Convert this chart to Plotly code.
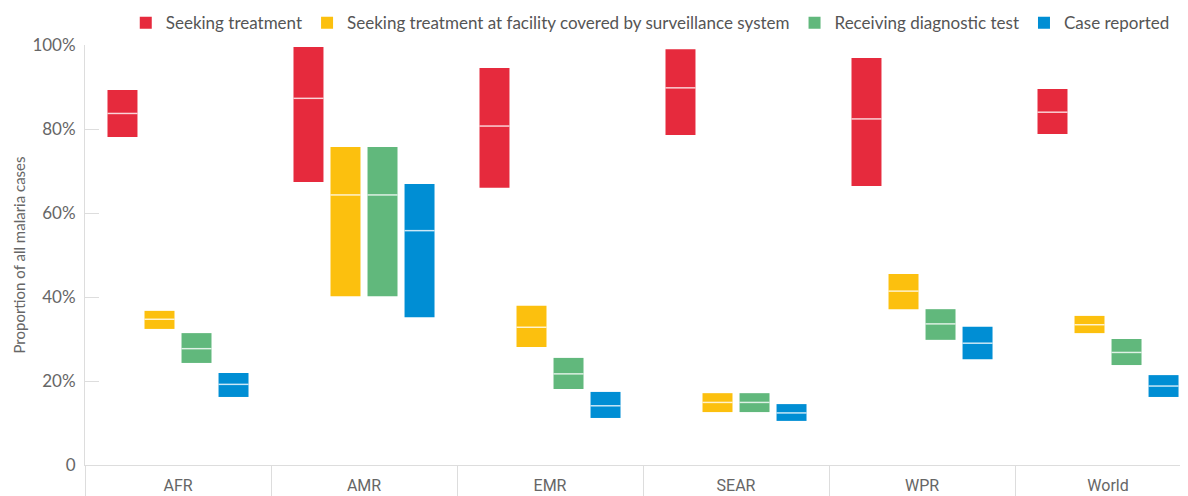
import plotly.graph_objects as go

regions = ["AFR", "AMR", "EMR", "SEAR", "WPR", "World"]
series = ["Seeking treatment",
          "Seeking treatment at facility covered by surveillance system",
          "Receiving diagnostic test",
          "Case reported"]
colors = ["#E62A3D", "#FCC00E", "#61B87C", "#008ED4"]

low_seek = [78.1, 67.4, 66.0, 78.6, 66.4, 78.8]
med_seek = [83.7, 87.3, 80.7, 89.8, 82.4, 84.0]
high_seek = [89.3, 99.5, 94.5, 99.0, 96.9, 89.5]

low_fac = [32.4, 40.2, 28.1, 12.6, 37.1, 31.4]
med_fac = [34.7, 64.3, 32.8, 14.9, 41.4, 33.4]
high_fac = [36.7, 75.7, 37.9, 17.1, 45.5, 35.5]

low_test = [24.3, 40.2, 18.1, 12.6, 29.8, 23.8]
med_test = [27.7, 64.3, 21.7, 14.9, 33.6, 26.8]
high_test = [31.4, 75.7, 25.5, 17.1, 37.1, 30.0]

low_rep = [16.2, 35.2, 11.2, 10.5, 25.2, 16.2]
med_rep = [19.2, 55.8, 14.1, 12.4, 29.0, 18.8]
high_rep = [21.9, 66.9, 17.4, 14.5, 32.9, 21.4]

y_tickvals = [0, 20, 40, 60, 80, 100]
y_ticktext = ["0", "20%", "40%", "60%", "80%", "100%"]

lows = [low_seek, low_fac, low_test, low_rep]
meds = [med_seek, med_fac, med_test, med_rep]
highs = [high_seek, high_fac, high_test, high_rep]

fig = go.Figure()
for i, name in enumerate(series):
    fig.add_trace(go.Bar(
        x=regions,
        y=[h - l for h, l in zip(highs[i], lows[i])],
        base=lows[i],
        name=name,
        marker=dict(color=colors[i], line=dict(width=0)),
        offsetgroup=str(i),
        customdata=list(zip(lows[i], meds[i], highs[i])),
        hovertemplate="%{x}<br>low %{customdata[0]}%<br>median %{customdata[1]}%<br>high %{customdata[2]}%<extra>" + name + "</extra>",
    ))
for i, name in enumerate(series):
    fig.add_trace(go.Bar(
        x=regions,
        y=[0.35] * len(regions),
        base=[m - 0.175 for m in meds[i]],
        name=name + " median",
        marker=dict(color="rgba(255,255,255,0.8)", line=dict(width=0)),
        offsetgroup=str(i),
        showlegend=False,
        hoverinfo="skip",
    ))

fig.update_layout(
    width=1180, height=488,
    margin=dict(l=77, r=0, t=37, b=31, autoexpand=False),
    barmode="group",
    bargap=0.204,
    bargroupgap=0.19,
    plot_bgcolor="white",
    paper_bgcolor="white",
    font=dict(family="Lato", size=17, color="#666666"),
    legend=dict(
        orientation="h",
        x=0.988, xanchor="right",
        y=1.052, yanchor="middle",
        font=dict(family="Lato", size=17, color="#555555"),
        itemwidth=30,
        bgcolor="rgba(0,0,0,0)",
    ),
    xaxis=dict(
        range=[-0.5, 5.43],
        automargin=False,
        showline=True, linecolor="#dddddd", linewidth=1,
        ticks="outside", tickson="boundaries", ticklen=40,
        tickcolor="#dddddd", tickwidth=1,
        ticklabelstandoff=6,
        tickfont=dict(family="Roboto", size=16, color="#666666"),
        showgrid=False, zeroline=False,
    ),
    yaxis=dict(
        range=[0, 100],
        automargin=False,
        tickvals=y_tickvals, ticktext=y_ticktext,
        showline=True, linecolor="#dddddd", linewidth=1,
        ticks="inside", ticklen=14, tickcolor="#dddddd", tickwidth=1,
        ticklabelstandoff=5,
        tickfont=dict(family="Lato", size=17, color="#666666"),
        showgrid=False, zeroline=False,
        title=dict(text="Proportion of all malaria cases",
                   font=dict(family="Lato", size=15, color="#666666"),
                   standoff=3),
    ),
)

fig.write_html("out.html")
